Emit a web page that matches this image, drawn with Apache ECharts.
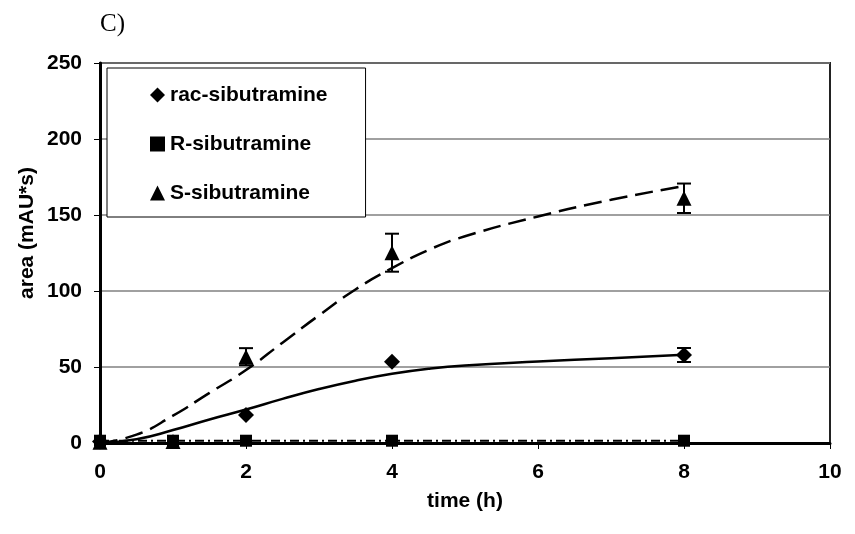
<!DOCTYPE html>
<html>
<head>
<meta charset="utf-8">
<script src="https://cdn.jsdelivr.net/npm/echarts@6/dist/echarts.min.js"></script>
<style>
html,body{margin:0;padding:0;background:#fff;}
#chart{width:855px;height:534px;}
</style>
</head>
<body>
<div id="chart"></div>
<script>
// ---- data ----
var seriesNames = ['rac-sibutramine', 'R-sibutramine', 'S-sibutramine'];
var xTicks = [0, 2, 4, 6, 8, 10];
var yTicks = [0, 50, 100, 150, 200, 250];

// measured points
var racTime = [0, 2, 4, 8];
var racArea = [1, 18.4, 53.5, 57.9];
var racErr  = [0, 0, 0, 4.6];

var rTime = [0, 1, 2, 4, 8];
var rArea = [1.5, 1.5, 1.5, 1.5, 1.5];

var sTime = [0, 1, 2, 4, 8];
var sArea = [0.5, 1, 56.8, 125.2, 161];
var sErr  = [0, 0, 5.6, 12.5, 9.7];

// fitted curves
var racFitTime = [0, 0.5, 1, 1.5, 2, 2.5, 3, 3.5, 4, 4.5, 5, 6, 7, 8];
var racFitArea = [0, 2.5, 8.5, 15.5, 22, 29, 35.5, 41, 45.5, 48.8, 51, 53.6, 55.8, 58];

var rFitTime = [0, 8];
var rFitArea = [1.5, 1.5];

var sFitTime = [0, 0.5, 1, 1.5, 2, 2.5, 3, 3.5, 4, 4.5, 5, 6, 7, 8];
var sFitArea = [0, 5.5, 18, 33, 48, 66, 84, 101, 115, 127, 136, 149, 160, 169];

function pairs(xs, ys) { return xs.map(function (x, i) { return [x, ys[i]]; }); }
function errPairs(xs, ys, es) {
  var out = [];
  xs.forEach(function (x, i) { if (es[i] > 0) out.push([x, ys[i] - es[i], ys[i] + es[i]]); });
  return out;
}

var FONT = '"Liberation Sans", Arial, sans-serif';
var diamondPath = 'path://M5,0 L10,5 L5,10 L0,5 Z';

function errorBarRender(params, api) {
  var x = api.value(0);
  var lo = api.coord([x, api.value(1)]);
  var hi = api.coord([x, api.value(2)]);
  var cap = 7;
  var st = { stroke: '#000', lineWidth: 2 };
  return {
    type: 'group',
    children: [
      { type: 'line', shape: { x1: lo[0], y1: lo[1], x2: hi[0], y2: hi[1] }, style: st },
      { type: 'line', shape: { x1: lo[0] - cap, y1: lo[1], x2: lo[0] + cap, y2: lo[1] }, style: st },
      { type: 'line', shape: { x1: hi[0] - cap, y1: hi[1], x2: hi[0] + cap, y2: hi[1] }, style: st }
    ]
  };
}

var chart = echarts.init(document.getElementById('chart'), null, { renderer: 'canvas' });
chart.setOption({
  animation: false,
  backgroundColor: '#fff',
  textStyle: { fontFamily: FONT },
  grid: {
    left: 100, right: 25, top: 63, bottom: 91,
    show: true, borderColor: '#222', borderWidth: 2, backgroundColor: 'transparent'
  },
  graphic: [
    { type: 'text', left: 100, top: 12,
      style: { text: 'C)', font: '25px "Liberation Serif", "Times New Roman", serif', fill: '#000' } },
    { type: 'text', x: 27, y: 233, rotation: Math.PI / 2,
      style: { text: 'area (mAU*s)', font: 'bold 21px ' + FONT, fill: '#000', align: 'center', verticalAlign: 'middle' } },
    { type: 'text', x: 465, y: 501,
      style: { text: 'time (h)', font: 'bold 21px ' + FONT, fill: '#000', align: 'center', verticalAlign: 'middle' } }
  ],
  legend: {
    data: [
      { name: seriesNames[0], icon: diamondPath, itemStyle: { color: '#000', opacity: 1 } },
      { name: seriesNames[1], icon: 'rect', itemStyle: { color: '#000', opacity: 1 } },
      { name: seriesNames[2], icon: 'triangle', itemStyle: { color: '#000', opacity: 1 } }
    ],
    orient: 'vertical',
    left: 107, top: 68,
    padding: [15, 38, 12, 43],
    itemGap: 25,
    itemWidth: 15, itemHeight: 15,
    backgroundColor: '#fff',
    borderColor: '#000', borderWidth: 1,
    textStyle: { fontFamily: FONT, fontWeight: 'bold', fontSize: 21, color: '#000', lineHeight: 24 },
    z: 10
  },
  xAxis: {
    type: 'value', min: 0, max: 10, interval: 2,
    axisLine: { show: true, onZero: false, lineStyle: { color: '#000', width: 3 } },
    axisTick: { show: true, inside: false, length: 6, lineStyle: { color: '#000', width: 1 } },
    axisLabel: { margin: 19, fontFamily: FONT, fontWeight: 'bold', fontSize: 21, color: '#000',
      formatter: function (v) { return xTicks.indexOf(v) >= 0 ? String(v) : ''; } },
    splitLine: { show: false }
  },
  yAxis: {
    type: 'value', min: 0, max: 250, interval: 50,
    axisLine: { show: true, lineStyle: { color: '#000', width: 3 } },
    axisTick: { show: true, inside: false, length: 6, lineStyle: { color: '#000', width: 1 } },
    axisLabel: { margin: 18, fontFamily: FONT, fontWeight: 'bold', fontSize: 21, color: '#000',
      formatter: function (v) { return yTicks.indexOf(v) >= 0 ? String(v) : ''; } },
    splitLine: { show: true, lineStyle: { color: '#808080', width: 1.5 } }
  },
  series: [
    { name: 'racFit', type: 'line', data: pairs(racFitTime, racFitArea), smooth: 0.5, symbol: 'none',
      lineStyle: { color: '#000', width: 2.5 }, z: 3, silent: true },
    { name: 'rFit', type: 'line', data: pairs(rFitTime, rFitArea), symbol: 'none',
      lineStyle: { color: '#000', width: 2, type: [9, 4, 2, 4] }, z: 3, silent: true },
    { name: 'sFit', type: 'line', data: pairs(sFitTime, sFitArea), smooth: 0.5, symbol: 'none',
      lineStyle: { color: '#000', width: 2.5, type: [18, 8] }, z: 3, silent: true },
    { name: 'racErr', type: 'custom', data: errPairs(racTime, racArea, racErr), renderItem: errorBarRender, z: 4 },
    { name: 'sErr', type: 'custom', data: errPairs(sTime, sArea, sErr), renderItem: errorBarRender, z: 4 },
    { name: seriesNames[0], type: 'scatter', data: pairs(racTime, racArea), symbol: diamondPath, symbolSize: 16,
      itemStyle: { color: '#000', opacity: 1 }, z: 5 },
    { name: seriesNames[1], type: 'scatter', data: pairs(rTime, rArea), symbol: 'rect', symbolSize: 12,
      itemStyle: { color: '#000', opacity: 1 }, z: 5 },
    { name: seriesNames[2], type: 'scatter', data: pairs(sTime, sArea), symbol: 'triangle', symbolSize: 15,
      itemStyle: { color: '#000', opacity: 1 }, z: 5 }
  ]
});
</script>
</body>
</html>
